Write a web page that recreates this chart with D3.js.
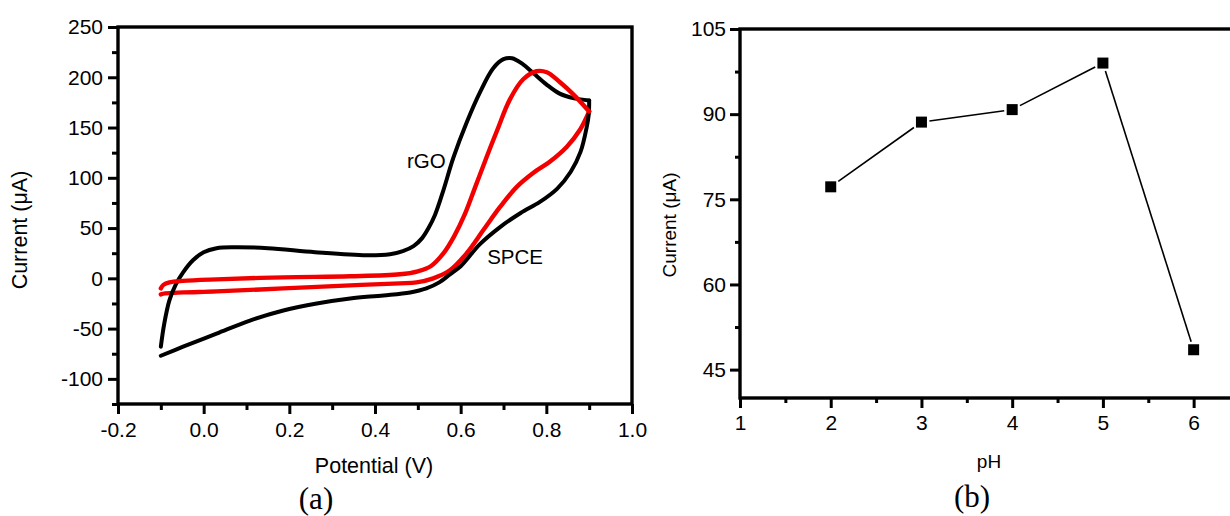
<!DOCTYPE html>
<html>
<head>
<meta charset="utf-8">
<script src="https://cdn.jsdelivr.net/npm/d3@7/dist/d3.min.js"></script>
<style>
  html, body { margin: 0; padding: 0; background: #fff; }
  svg { display: block; }
  text { font-family: "Liberation Sans", Arial, sans-serif; fill: #000; }
</style>
</head>
<body>
<svg id="fig" width="1230" height="516"></svg>
<script>
// ---- (a) cyclic voltammograms: [potential (V), current (µA)] ----
const rgoForward = [
  [-0.100, -68], [-0.092, -45], [-0.080, -22], [-0.065, -6], [-0.048, 6],
  [-0.025, 18], [0.000, 26], [0.030, 30], [0.070, 31], [0.150, 30],
  [0.260, 26], [0.380, 23], [0.435, 24], [0.465, 27], [0.490, 32],
  [0.510, 40], [0.525, 50], [0.540, 63], [0.560, 88], [0.583, 120],
  [0.614, 155], [0.645, 185], [0.676, 209], [0.700, 218], [0.720, 219],
  [0.745, 213], [0.770, 204], [0.800, 193], [0.830, 184], [0.865, 179],
  [0.900, 177]
];
const rgoReverse = [
  [0.900, 177], [0.899, 163], [0.894, 150], [0.880, 126], [0.857, 106],
  [0.825, 89], [0.785, 76], [0.740, 65], [0.692, 51], [0.645, 34],
  [0.600, 12], [0.575, 4], [0.550, -4], [0.520, -10], [0.482, -14],
  [0.420, -17], [0.342, -20], [0.264, -25], [0.186, -32], [0.108, -42],
  [0.030, -55], [-0.048, -68], [-0.100, -77]
];
const spceForward = [
  [-0.100, -10], [-0.094, -6.5], [-0.080, -4], [-0.048, -2.5], [0.030, -1],
  [0.186, 1], [0.342, 2], [0.458, 4], [0.500, 7], [0.530, 12],
  [0.560, 25], [0.585, 42], [0.610, 64], [0.635, 92], [0.660, 120],
  [0.685, 147], [0.715, 178], [0.746, 198], [0.777, 206], [0.801, 205],
  [0.832, 195], [0.863, 183], [0.900, 166]
];
const spceReverse = [
  [0.900, 166], [0.879, 148], [0.848, 131], [0.808, 116], [0.770, 105],
  [0.731, 91], [0.692, 71], [0.653, 48], [0.614, 25], [0.575, 8],
  [0.536, 0], [0.497, -4], [0.458, -5], [0.342, -7], [0.186, -10],
  [0.030, -13], [-0.048, -14], [-0.090, -15], [-0.100, -16]
];
const potentialTicks = [-0.2, 0.0, 0.2, 0.4, 0.6, 0.8, 1.0];
const potentialMinor = [-0.1, 0.1, 0.3, 0.5, 0.7, 0.9];
const cvCurrentTicks = [-100, -50, 0, 50, 100, 150, 200, 250];
const cvCurrentMinor = [-125, -75, -25, 25, 75, 125, 175, 225];

// ---- (b) peak current against pH ----
const pHValues = [2, 3, 4, 5, 6];
const pHCurrent = [77.2, 88.6, 90.8, 99.0, 48.5];
const pHTicks = [1, 2, 3, 4, 5, 6];
const pHMinor = [1.5, 2.5, 3.5, 4.5, 5.5];
const pHCurrentTicks = [45, 60, 75, 90, 105];
const pHCurrentMinor = [52.5, 67.5, 82.5, 97.5];

const svg = d3.select("#fig");
const minus = s => s.replace("−", "-");

function drawAxes(g, x, y, opt) {
  const [x0, x1] = x.range();
  const [y0, y1] = y.range();
  // minor ticks
  g.append("g").attr("transform", `translate(0,${y0})`)
    .call(d3.axisBottom(x).tickValues(opt.xMinor).tickSize(opt.minor).tickFormat(""))
    .call(s => s.select(".domain").remove());
  g.append("g").attr("transform", `translate(${x0},0)`)
    .call(d3.axisLeft(y).tickValues(opt.yMinor).tickSize(opt.minor).tickFormat(""))
    .call(s => s.select(".domain").remove());
  // major ticks with labels
  g.append("g").attr("transform", `translate(0,${y0})`)
    .call(d3.axisBottom(x).tickValues(opt.xTicks).tickSize(opt.major)
      .tickPadding(opt.xPad).tickFormat(d => minus(opt.xFmt(d))))
    .call(s => s.select(".domain").remove());
  g.append("g").attr("transform", `translate(${x0},0)`)
    .call(d3.axisLeft(y).tickValues(opt.yTicks).tickSize(opt.major)
      .tickPadding(opt.yPad).tickFormat(d => minus(opt.yFmt(d))))
    .call(s => s.select(".domain").remove());
  g.selectAll(".tick line").attr("stroke", "#000").attr("stroke-width", 3);
  g.selectAll(".tick text").attr("font-size", opt.tickFont)
    .attr("font-family", "'Liberation Sans', Arial, sans-serif").attr("fill", "#000");
  // frame
  g.append("rect")
    .attr("x", x0).attr("y", y1)
    .attr("width", x1 - x0).attr("height", y0 - y1)
    .attr("fill", "none").attr("stroke", "#000").attr("stroke-width", 3.4);
}

// ================= panel (a) =================
{
  const x = d3.scaleLinear().domain([-0.2, 1.0]).range([118, 632]);
  const y = d3.scaleLinear().domain([-125, 250]).range([404, 27]);
  const g = svg.append("g");

  const line = d3.line().x(d => x(d[0])).y(d => y(d[1])).curve(d3.curveCatmullRom.alpha(0.5));
  const trace = (data, color, w) => g.append("path").datum(data)
    .attr("d", line).attr("fill", "none").attr("stroke", color)
    .attr("stroke-width", w).attr("stroke-linejoin", "round").attr("stroke-linecap", "round");

  trace(spceReverse, "#f20000", 4.4);
  trace(rgoForward, "#000", 4);
  trace(rgoReverse, "#000", 4);
  trace(spceForward, "#f20000", 4.4);

  drawAxes(g, x, y, {
    xTicks: potentialTicks, xMinor: potentialMinor,
    yTicks: cvCurrentTicks, yMinor: cvCurrentMinor,
    major: 10, minor: 6, xPad: 8, yPad: 5,
    xFmt: d3.format(".1f"), yFmt: d3.format("d"),
    tickFont: "21px"
  });

  g.append("text").attr("x", x(0.52)).attr("y", y(110)).attr("text-anchor", "middle")
    .attr("font-size", "20.5px").text("rGO");
  g.append("text").attr("x", x(0.727)).attr("y", y(14)).attr("text-anchor", "middle")
    .attr("font-size", "20.5px").text("SPCE");

  g.append("text").attr("transform", "translate(27,230) rotate(-90)")
    .attr("text-anchor", "middle").attr("font-size", "21.5px").text("Current (μA)");
  g.append("text").attr("x", 374).attr("y", 473).attr("text-anchor", "middle")
    .attr("font-size", "21.5px").text("Potential (V)");
  g.append("text").attr("x", 316).attr("y", 509).attr("text-anchor", "middle")
    .attr("font-size", "31px").style("font-family", "'Liberation Serif', 'Times New Roman', serif").text("(a)");
}

// ================= panel (b) =================
{
  const x = d3.scaleLinear().domain([1, 6.5]).range([740, 1239]);
  const y = d3.scaleLinear().domain([40, 105]).range([398, 29]);
  const g = svg.append("g");

  drawAxes(g, x, y, {
    xTicks: pHTicks, xMinor: pHMinor,
    yTicks: pHCurrentTicks, yMinor: pHCurrentMinor,
    major: 10, minor: 5, xPad: 7, yPad: 4,
    xFmt: d3.format("d"), yFmt: d3.format("d"),
    tickFont: "21px"
  });

  const pts = pHValues.map((p, i) => [x(p), y(pHCurrent[i])]);
  const half = 5.5, gap = 2.5;
  // connecting segments stop short of each marker
  g.append("g").selectAll("line").data(d3.pairs(pts)).join("line")
    .each(function ([a, b]) {
      const dx = b[0] - a[0], dy = b[1] - a[1];
      const len = Math.hypot(dx, dy);
      const ta = (half / Math.max(Math.abs(dx), Math.abs(dy)) * len + gap) / len;
      d3.select(this)
        .attr("x1", a[0] + dx * ta).attr("y1", a[1] + dy * ta)
        .attr("x2", b[0] - dx * ta).attr("y2", b[1] - dy * ta);
    })
    .attr("stroke", "#000").attr("stroke-width", 1.6);

  g.append("g").selectAll("rect").data(pts).join("rect")
    .attr("x", d => d[0] - half).attr("y", d => d[1] - half)
    .attr("width", half * 2).attr("height", half * 2).attr("fill", "#000");

  g.append("text").attr("transform", "translate(676,225) rotate(-90)")
    .attr("text-anchor", "middle").attr("font-size", "19px").text("Current (μA)");
  g.append("text").attr("x", 989).attr("y", 468).attr("text-anchor", "middle")
    .attr("font-size", "19px").text("pH");
  g.append("text").attr("x", 972).attr("y", 507).attr("text-anchor", "middle")
    .attr("font-size", "31px").style("font-family", "'Liberation Serif', 'Times New Roman', serif").text("(b)");
}
</script>
</body>
</html>
